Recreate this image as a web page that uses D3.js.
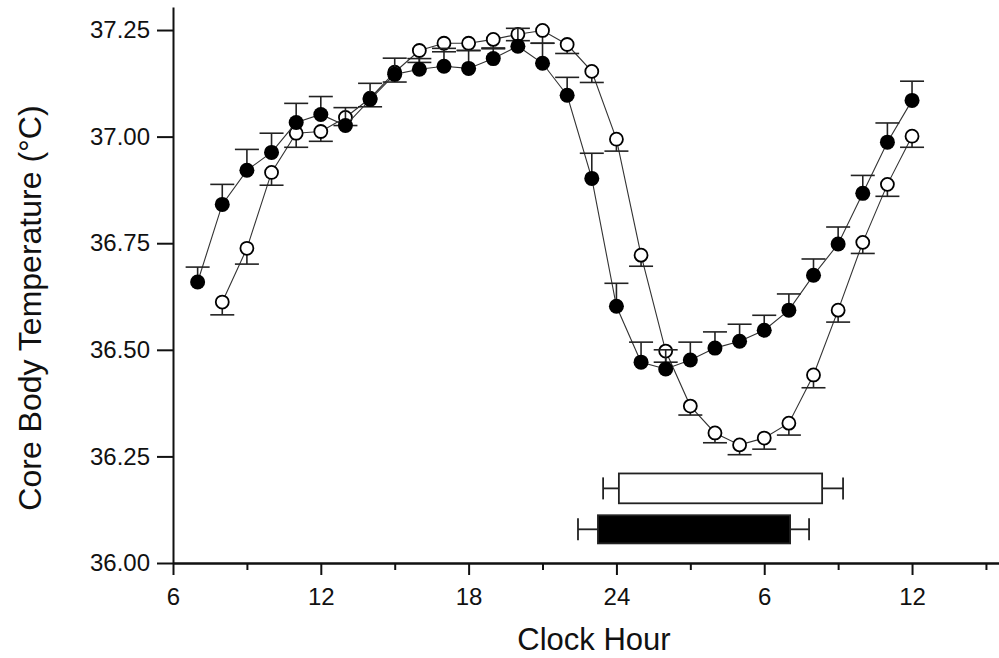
<!DOCTYPE html>
<html>
<head>
<meta charset="utf-8">
<script src="https://cdn.jsdelivr.net/npm/d3@7"></script>
<style>
body { margin:0; background:#fff; }
text { font-family: Arial, "Liberation Sans", sans-serif; fill:#111; }
</style>
</head>
<body>
<script>
var WIDTH = 999, HEIGHT = 658

// clock hours, continuous (30 = 6 next day, 36 = 12 next day)
var filledHours = d3.range(7, 37)
var filledTemp = [36.659, 36.841, 36.921, 36.963, 37.033, 37.052, 37.026, 37.087, 37.146, 37.158,
                  37.165, 37.160, 37.183, 37.212, 37.172, 37.097, 36.902, 36.602, 36.471, 36.455,
                  36.476, 36.504, 36.520, 36.546, 36.593, 36.675, 36.748, 36.867, 36.987, 37.085]
var filledErr = [0.035, 0.047, 0.049, 0.045, 0.045, 0.042, 0.042, 0.038, 0.038, 0.025,
                 0.042, 0.042, 0.023, 0.042, 0.047, 0.042, 0.059, 0.054, 0.047, 0.045,
                 0.042, 0.038, 0.040, 0.035, 0.038, 0.038, 0.040, 0.042, 0.045, 0.045]

var openHours = d3.range(8, 37)
var openTemp = [36.612, 36.738, 36.916, 37.008, 37.012, 37.045, 37.090, 37.151, 37.202, 37.219,
                37.219, 37.228, 37.240, 37.249, 37.216, 37.153, 36.994, 36.722, 36.497, 36.368,
                36.305, 36.277, 36.293, 36.328, 36.441, 36.593, 36.752, 36.888, 37.001]
var openErr = [0.030, 0.037, 0.030, 0.033, 0.023, 0.019, 0.020, 0.023, 0.028, 0.020,
               0.017, 0.020, 0.015, 0.030, 0.021, 0.026, 0.028, 0.026, 0.026, 0.021,
               0.023, 0.023, 0.026, 0.028, 0.030, 0.028, 0.026, 0.028, 0.026]

// sleep episode boxes: [whiskerLow, boxStart, boxEnd, whiskerHigh]
var openSleep = [23.46, 24.1, 32.35, 33.2]
var filledSleep = [22.44, 23.25, 31.05, 31.82]
var sleepRowTemp = [36.175, 36.079]   // vertical centre of open / filled box
var sleepRowHalf = [0.035, 0.033]

var majorTicks = [6, 12, 18, 24, 30, 36]
var majorLabels = ['6', '12', '18', '24', '6', '12']
var minorTicks = [9, 15, 21, 27, 33, 39]
var yTicks = [36.00, 36.25, 36.50, 36.75, 37.00, 37.25]

var x = d3.scaleLinear().domain([6, 39.53]).range([173, 999])
var y = d3.scaleLinear().domain([36, 37.304]).range([563, 7])

var svg = d3.select('body').append('svg')
	.attr('width', WIDTH)
	.attr('height', HEIGHT)

// axes
var yAxis = d3.axisLeft(y).tickValues(yTicks).tickFormat(d3.format('.2f'))
	.tickSize(16).tickSizeOuter(0).tickPadding(7)
var gy = svg.append('g').attr('transform', 'translate(173,0)').call(yAxis)

var xAxis = d3.axisBottom(x).tickValues(majorTicks)
	.tickFormat(function(d, i){ return majorLabels[i] })
	.tickSize(12).tickSizeOuter(0).tickPadding(13)
var gx = svg.append('g').attr('transform', 'translate(0,563)').call(xAxis)

var xMinor = d3.axisBottom(x).tickValues(minorTicks).tickFormat('')
	.tickSize(7).tickSizeOuter(0)
var gm = svg.append('g').attr('transform', 'translate(0,563)').call(xMinor)

svg.selectAll('.domain').attr('stroke', '#111').attr('stroke-width', 2)
svg.selectAll('.tick line').attr('stroke', '#111').attr('stroke-width', 2)
svg.selectAll('.tick text').attr('font-size', 24).attr('fill', '#111')
	.style('font-family', 'Arial, "Liberation Sans", sans-serif')

svg.append('text')
	.attr('transform', 'translate(41,308) rotate(-90)')
	.attr('text-anchor', 'middle')
	.attr('font-size', 32)
	.text('Core Body Temperature (°C)')

svg.append('text')
	.attr('x', 594).attr('y', 650)
	.attr('text-anchor', 'middle')
	.attr('font-size', 31)
	.text('Clock Hour')

// sleep boxes
var rows = [
	{ v: openSleep, c: sleepRowTemp[0], h: sleepRowHalf[0], fill: '#fff' },
	{ v: filledSleep, c: sleepRowTemp[1], h: sleepRowHalf[1], fill: '#000' }
]
rows.forEach(function(r){
	var g = svg.append('g').attr('stroke', '#222').attr('stroke-width', 1.8)
	var cy = y(r.c)
	g.append('line').attr('x1', x(r.v[0])).attr('x2', x(r.v[1])).attr('y1', cy).attr('y2', cy)
	g.append('line').attr('x1', x(r.v[2])).attr('x2', x(r.v[3])).attr('y1', cy).attr('y2', cy)
	g.append('line').attr('x1', x(r.v[0])).attr('x2', x(r.v[0])).attr('y1', cy - 11).attr('y2', cy + 11)
	g.append('line').attr('x1', x(r.v[3])).attr('x2', x(r.v[3])).attr('y1', cy - 11).attr('y2', cy + 11)
	g.append('rect')
		.attr('x', x(r.v[1])).attr('width', x(r.v[2]) - x(r.v[1]))
		.attr('y', y(r.c + r.h)).attr('height', y(r.c - r.h) - y(r.c + r.h))
		.attr('fill', r.fill)
})

var openData = openHours.map(function(h, i){ return { h: h, t: openTemp[i], e: openErr[i] } })
var filledData = filledHours.map(function(h, i){ return { h: h, t: filledTemp[i], e: filledErr[i] } })

var line = d3.line().x(function(d){ return x(d.h) }).y(function(d){ return y(d.t) })

function drawSeries(data, dir, filled){
	var g = svg.append('g')
	g.append('path').datum(data).attr('d', line)
		.attr('fill', 'none').attr('stroke', '#333').attr('stroke-width', 1.1)
	var eb = g.selectAll('.err').data(data).enter().append('g').attr('stroke', '#222').attr('stroke-width', 1.6)
	eb.append('line')
		.attr('x1', function(d){ return x(d.h) }).attr('x2', function(d){ return x(d.h) })
		.attr('y1', function(d){ return y(d.t) })
		.attr('y2', function(d){ return y(d.t + dir * d.e) })
	eb.append('line')
		.attr('x1', function(d){ return x(d.h) - 12 }).attr('x2', function(d){ return x(d.h) + 12 })
		.attr('y1', function(d){ return y(d.t + dir * d.e) })
		.attr('y2', function(d){ return y(d.t + dir * d.e) })
	g.selectAll('circle').data(data).enter().append('circle')
		.attr('cx', function(d){ return x(d.h) })
		.attr('cy', function(d){ return y(d.t) })
		.attr('r', filled ? 7.5 : 6.5)
		.attr('fill', filled ? '#000' : '#fff')
		.attr('stroke', '#000')
		.attr('stroke-width', filled ? 0 : 1.8)
}

drawSeries(openData, -1, false)
drawSeries(filledData, 1, true)
</script>
</body>
</html>
